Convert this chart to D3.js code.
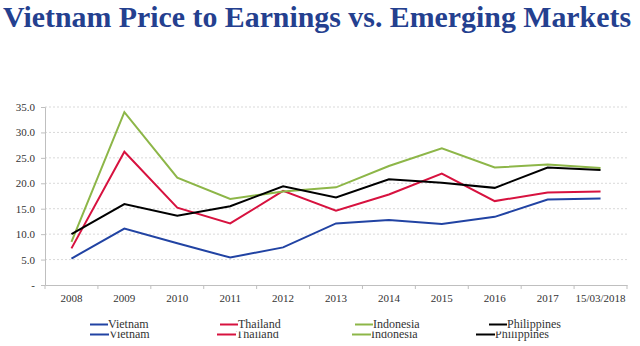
<!DOCTYPE html>
<html><head><meta charset="utf-8">
<script src="https://cdn.jsdelivr.net/npm/d3@7"></script>
<style>body{margin:0;background:#fff}svg{display:block}</style>
</head><body><svg id="c" width="640" height="346"></svg>
<script>
const categories = ["2008","2009","2010","2011","2012","2013","2014","2015","2016","2017","15/03/2018"];
const vietnam     = [5.2,11.1,8.2,5.4,7.4,12.1,12.8,12.0,13.4,16.8,17.0];
const thailand    = [7.2,26.2,15.2,12.1,18.5,14.6,17.8,21.9,16.5,18.2,18.4];
const indonesia   = [8.5,34.0,21.1,16.9,18.4,19.2,23.4,26.9,23.1,23.7,23.0];
const philippines = [10.0,15.9,13.6,15.5,19.4,17.2,20.8,20.1,19.1,23.1,22.6];
const yTicks = [0,5,10,15,20,25,30,35];
const seriesNames = ["Vietnam","Thailand","Indonesia","Philippines"];
const seriesColors = ["#2143a3","#d7123f","#8db648","#000000"];
const seriesData = [vietnam, thailand, indonesia, philippines];

const svg = d3.select("#c");
const serif = "'Liberation Serif','DejaVu Serif',serif";

svg.append("text").attr("x",3).attr("y",27)
  .attr("textLength",628).attr("lengthAdjust","spacingAndGlyphs")
  .attr("font-family",serif).attr("font-weight","bold").attr("font-size",29)
  .attr("fill","#24408f").text("Vietnam Price to Earnings vs. Emerging Markets");

const x = d3.scaleBand().domain(categories).range([45,627]);
const y = d3.scaleLinear().domain([0,35]).range([285,107]);

// gridlines
svg.append("g").selectAll("line").data(yTicks.filter(d=>d>0)).join("line")
  .attr("x1",45).attr("x2",627).attr("y1",d=>y(d)).attr("y2",d=>y(d))
  .attr("stroke","#d9d9d9").attr("stroke-dasharray","2,2").attr("stroke-width",1);

// y axis
const ya = svg.append("g").attr("transform","translate(45,0)")
  .call(d3.axisLeft(y).tickValues(yTicks).tickSize(4).tickPadding(6)
    .tickFormat(d=>d===0?"-":d3.format(".1f")(d)));
ya.select(".domain").attr("stroke","#bfbfbf");
ya.selectAll(".tick line").attr("stroke","#bfbfbf");
ya.selectAll("text").attr("font-family",serif).attr("font-size",11).attr("fill","#333");

// x axis
const xa = svg.append("g").attr("transform","translate(0,285)")
  .call(d3.axisBottom(x).tickSize(0).tickPadding(9));
xa.select(".domain").attr("stroke","#bfbfbf");
xa.selectAll("text").attr("font-family",serif).attr("font-size",11).attr("fill","#333");
const bounds = categories.map(c=>x(c)).concat([x.range()[1]]);
xa.selectAll(".bnd").data(bounds).join("line").attr("class","bnd")
  .attr("x1",d=>d).attr("x2",d=>d).attr("y1",0).attr("y2",4).attr("stroke","#bfbfbf");

// lines
const line = d3.line().x((d,i)=>x(categories[i])+x.bandwidth()/2).y(d=>y(d));
svg.append("g").selectAll("path").data(seriesData).join("path")
  .attr("d",line).attr("fill","none").attr("stroke-width",2)
  .attr("stroke",(d,i)=>seriesColors[i]);

// legend
const legX1 = [90,220,355,489];
const legX2 = [90,217,352,476];
function legend(g, xs, yy, len){
  seriesNames.forEach((n,i)=>{
    g.append("line").attr("x1",xs[i]).attr("x2",xs[i]+len).attr("y1",yy).attr("y2",yy)
      .attr("stroke",seriesColors[i]).attr("stroke-width",2);
    g.append("text").attr("x",xs[i]+len).attr("y",yy+3.5)
      .attr("font-family",serif).attr("font-size",12).attr("fill","#333").text(n);
  });
}
legend(svg.append("g"), legX2, 334.5, 19);
svg.append("rect").attr("x",0).attr("y",316).attr("width",640).attr("height",15.5).attr("fill","#fff");
legend(svg.append("g"), legX1, 324.5, 18);
</script></body></html>
